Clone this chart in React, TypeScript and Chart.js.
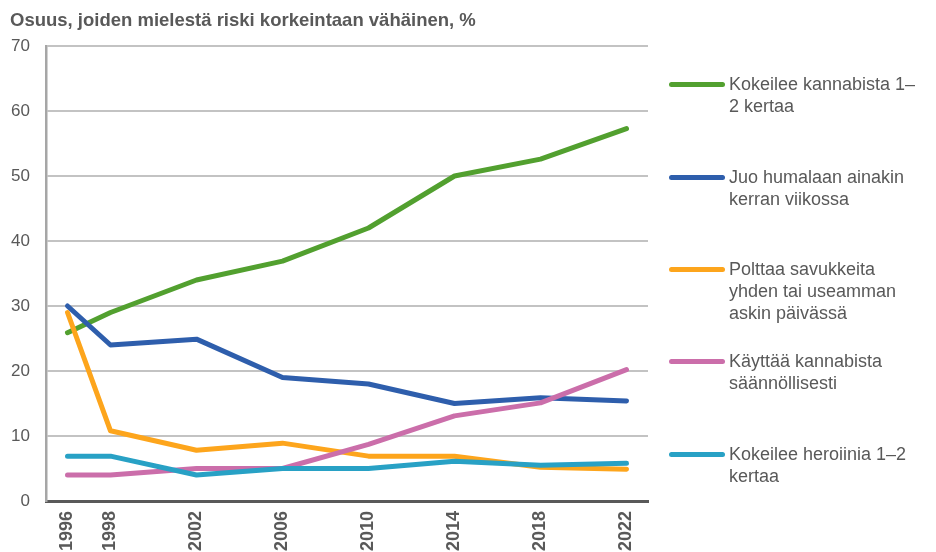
import React, { useEffect, useRef } from "react";
import { Chart, registerables } from "chart.js";

Chart.register(...registerables);

const years = [1996, 1998, 2002, 2006, 2010, 2014, 2018, 2022];
const cannabisTry = [25.9, 29, 34, 36.9, 42, 50, 52.6, 57.3];
const bingeWeekly = [30, 24, 24.9, 19, 18, 15, 15.9, 15.4];
const smokeDaily = [29, 10.8, 7.8, 8.9, 6.9, 6.9, 5.2, 4.9];
const cannabisRegular = [4, 4, 5, 5, 8.7, 13.1, 15.1, 20.2];
const heroinTry = [6.9, 6.9, 4, 5, 5, 6.1, 5.5, 5.8];
const yTicks = [0, 10, 20, 30, 40, 50, 60, 70];

const titleText = "Osuus, joiden mielestä riski korkeintaan vähäinen, %";
const seriesLabels = [
  ["Kokeilee kannabista 1–", "2 kertaa"],
  ["Juo humalaan ainakin", "kerran viikossa"],
  ["Polttaa savukkeita", "yhden tai useamman", "askin päivässä"],
  ["Käyttää kannabista", "säännöllisesti"],
  ["Kokeilee heroiinia 1–2", "kertaa"],
];
const seriesValues = [cannabisTry, bingeWeekly, smokeDaily, cannabisRegular, heroinTry];
const seriesColors = ["#52a02f", "#2e5eac", "#fda51c", "#cb6eaa", "#28a1c5"];
const legendTops = [84, 177, 269, 361, 454];

const TEXT = "#595959";
const FONT = "'Liberation Sans', Arial, sans-serif";

export default function App() {
  const ref = useRef<HTMLCanvasElement | null>(null);

  useEffect(() => {
    if (!ref.current) return;
    const chart = new Chart(ref.current, {
      type: "line",
      data: {
        datasets: seriesValues.map((vals, i) => ({
          label: seriesLabels[i].join(" "),
          data: vals.map((v, j) => ({ x: years[j], y: v })),
          borderColor: seriesColors[i],
          backgroundColor: seriesColors[i],
          borderWidth: 5,
          pointRadius: 0,
          tension: 0,
          borderCapStyle: "round",
          borderJoinStyle: "round",
          order: 10 - i,
        })),
      },
      options: {
        animation: false,
        responsive: false,
        layout: { padding: { left: 8, top: 46, right: 288, bottom: 0 } },
        plugins: {
          legend: { display: false },
          title: { display: false },
          tooltip: { enabled: false },
        },
        scales: {
          x: {
            type: "linear",
            min: 1995,
            max: 2023,
            afterBuildTicks: (scale: any) => {
              scale.ticks = years.map((y) => ({ value: y }));
            },
            afterFit: (scale: any) => {
              scale.height = 51;
            },
            ticks: {
              autoSkip: false,
              minRotation: 90,
              maxRotation: 90,
              padding: 10,
              color: TEXT,
              font: { family: FONT, size: 18, weight: "bold" },
              callback: (v: any) => String(v),
            },
            grid: { display: false, drawTicks: false },
            border: { display: true, color: "#595959", width: 3 },
          },
          y: {
            min: 0,
            max: 70,
            afterBuildTicks: (scale: any) => {
              scale.ticks = yTicks.map((v) => ({ value: v }));
            },
            afterFit: (scale: any) => {
              scale.width = 38;
            },
            ticks: {
              padding: 16,
              color: TEXT,
              font: { family: FONT, size: 17 },
            },
            grid: {
              drawTicks: false,
              lineWidth: 2,
              color: (ctx: any) => (ctx.tick && ctx.tick.value === 0 ? "rgba(0,0,0,0)" : "#c3c3c3"),
            },
            border: { display: true, color: "#a6a6a6", width: 2.5 },
          },
        },
      },
    });
    return () => chart.destroy();
  }, []);

  return (
    <div style={{ position: "absolute", left: 0, top: 0, width: 936, height: 552, overflow: "hidden", background: "#fff" }}>
      <canvas ref={ref} width={936} height={552} style={{ position: "absolute", left: 0, top: 0 }} />
      <div
        style={{
          position: "absolute",
          left: 10,
          top: 9,
          fontFamily: FONT,
          fontWeight: "bold",
          fontSize: 18.5,
          lineHeight: "22px",
          color: TEXT,
          whiteSpace: "nowrap",
        }}
      >
        {titleText}
      </div>
      {seriesLabels.map((lines, i) => (
        <div key={i} style={{ position: "absolute", left: 669, top: legendTops[i] - 11, display: "flex" }}>
          <div
            style={{
              width: 56,
              height: 5,
              borderRadius: 3,
              background: seriesColors[i],
              marginTop: 8.5,
              marginRight: 4,
            }}
          />
          <div style={{ fontFamily: FONT, fontSize: 18, lineHeight: "22px", color: TEXT, whiteSpace: "nowrap" }}>
            {lines.map((l, k) => (
              <div key={k}>{l}</div>
            ))}
          </div>
        </div>
      ))}
    </div>
  );
}
